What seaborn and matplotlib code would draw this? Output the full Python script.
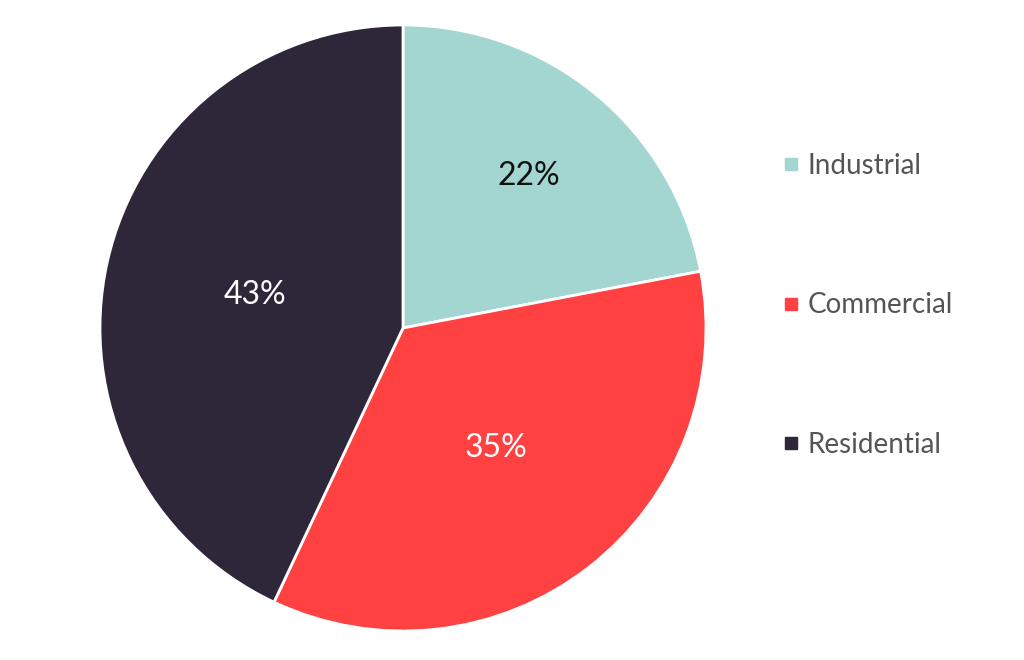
import matplotlib
matplotlib.use("Agg")
import matplotlib.pyplot as plt
from matplotlib.lines import Line2D
import seaborn as sns

sectors = ["Industrial", "Commercial", "Residential"]
shares = [22, 35, 43]
colors = ["#A3D6D1", "#FF4141", "#2E2639"]
label_colors = ["#111111", "white", "white"]

sns.set_theme(style="white")
plt.rcParams["font.family"] = ["Lato", "DejaVu Sans"]
palette = sns.color_palette(colors)

fig = plt.figure(figsize=(10.24, 6.6), dpi=100)
ax = fig.add_axes([100 / 1024, 29 / 660, 606 / 1024, 606 / 660])

wedges, texts, autotexts = ax.pie(
    shares, colors=palette, startangle=90, counterclock=False,
    autopct="%d%%", pctdistance=0.5,
    wedgeprops=dict(edgecolor="white", linewidth=2),
    textprops=dict(fontsize=23),
)
for t, c in zip(autotexts, label_colors):
    t.set_color(c)
# the small slice has its label pushed further out
x, y = autotexts[0].get_position()
autotexts[0].set_position((x * 1.3, y * 1.3))
ax.set_xlim(-1.0, 1.0)
ax.set_ylim(-1.0, 1.0)
ax.set_aspect("equal")

handles = [Line2D([0], [0], marker="s", linestyle="", markersize=9,
                  markerfacecolor=c, markeredgecolor=c) for c in palette]
leg = fig.legend(handles, sectors, loc="upper left",
                 bbox_to_anchor=(756 / 1024, 1 - 128 / 660),
                 frameon=False, fontsize=20, labelspacing=4.08,
                 handlelength=0.7, handletextpad=0.25)
for t in leg.get_texts():
    t.set_color("#555555")

fig.savefig("out.png", dpi=100)
